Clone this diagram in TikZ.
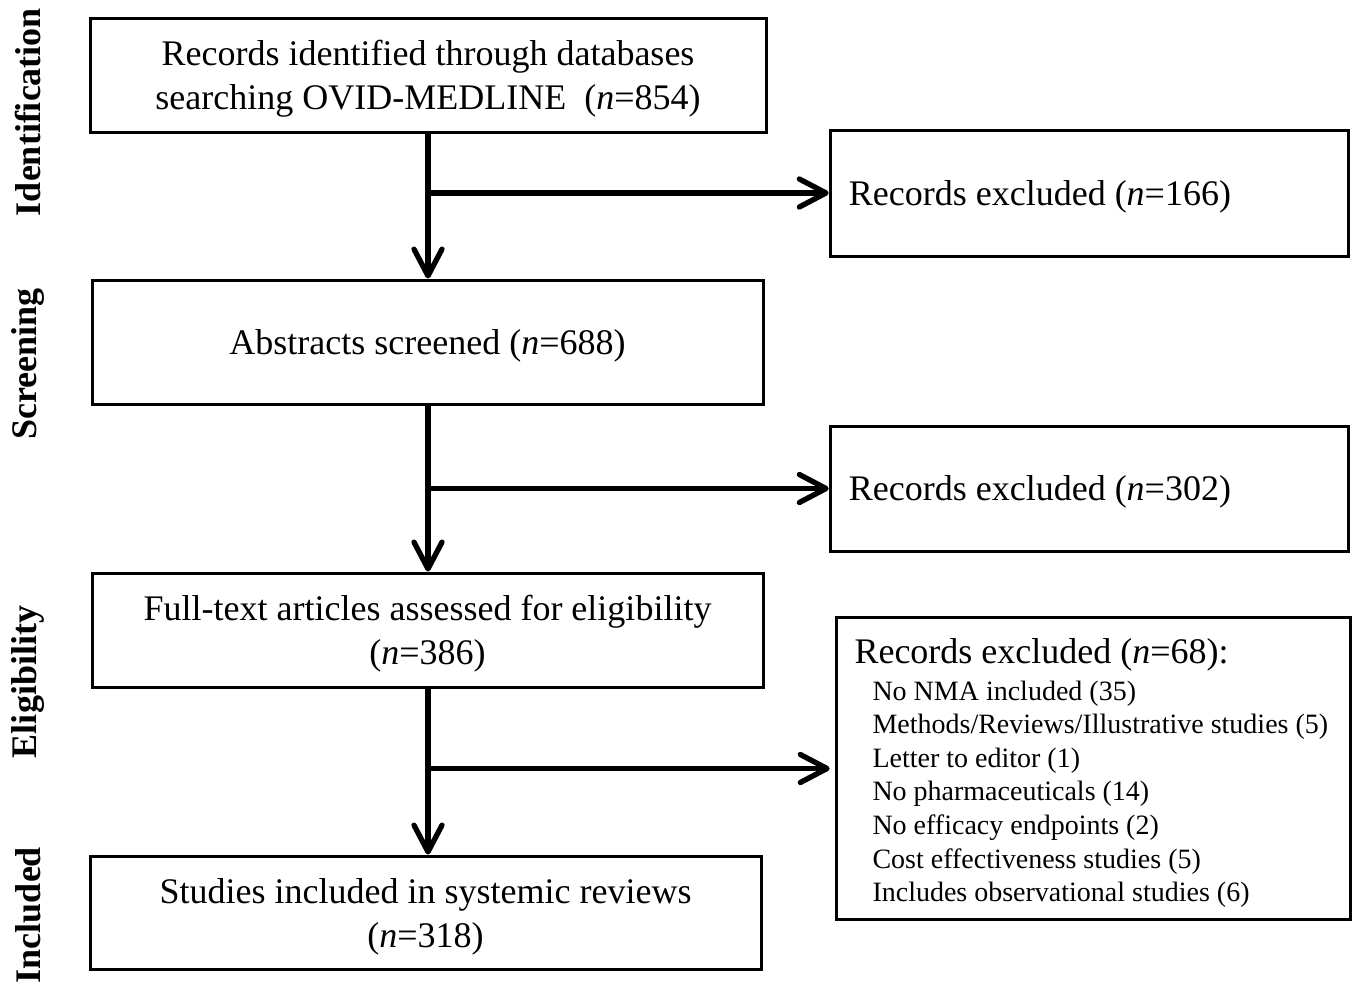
\documentclass[tikz,border=0pt]{standalone}
\usepackage{fontspec}
\setmainfont{Liberation Serif}
\usetikzlibrary{arrows.meta}

\begin{document}
\begin{tikzpicture}[
  x=0.75pt, y=-0.75pt,
  font=\fontsize{27}{33}\selectfont,
  frame/.style={draw, line width=2.25pt, inner sep=0pt},
  box/.style={frame, align=center, text depth=0pt},
  side/.style={frame, align=flush left, inner xsep=12pt},
  arr/.style={-{Straight Barb[length=20pt,width=21pt,round]}, line width=4pt},
  stage/.style={rotate=90, inner sep=0pt, font=\fontsize{27}{33}\selectfont\bfseries}
]
\useasboundingbox (0,0) rectangle (1352,985);

% ---- stage labels ----
\node[stage] (lid) at (28,112) {Identification};
\node[stage] (lscr) at (28,364) {Screening};
\node[stage] (lelig) at (28,682) {Eligibility};
\node[stage] (lincl) at (28,915) {Included};

% ---- main column ----
\node[box, minimum width=507pt, minimum height=85.5pt] (ident) at (428,75)
  {Records identified through databases\\searching OVID-MEDLINE \ (\textit{n}=854)};
\node[box, minimum width=503.25pt, minimum height=93pt] (abstr) at (427.5,342)
  {Abstracts screened (\textit{n}=688)};
\node[box, minimum width=503.25pt, minimum height=85.5pt] (full) at (427.5,630)
  {Full-text articles assessed for eligibility\\(\textit{n}=386)};
\node[box, minimum width=503.25pt, minimum height=84.75pt] (incl) at (425.5,912.5)
  {Studies included in systemic reviews\\(\textit{n}=318)};

% ---- exclusions ----
\node[side, inner xsep=14pt, text width=361pt, minimum height=94.5pt, text depth=0pt] (excA) at (1089.5,193)
  {Records excluded (\textit{n}=166)};
\node[side, inner xsep=14pt, text width=361pt, minimum height=93.75pt, text depth=0pt] (excB) at (1089.5,488.5)
  {Records excluded (\textit{n}=302)};
\node[side, text width=361.5pt, minimum height=226.5pt, anchor=north west] (excC) at (835,616)
  {\rule{0pt}{26pt}\hspace*{1.5pt}Records excluded (\textit{n}=68):\\[2pt]
   \fontsize{21}{25.2}\selectfont
   \hspace*{15pt}No NMA included (35)\\
   \hspace*{15pt}Methods/Reviews/Illustrative studies (5)\\
   \hspace*{15pt}Letter to editor (1)\\
   \hspace*{15pt}No pharmaceuticals (14)\\
   \hspace*{15pt}No efficacy endpoints (2)\\
   \hspace*{15pt}Cost effectiveness studies (5)\\
   \hspace*{15pt}Includes observational studies (6)\par};

% ---- arrows ----
\draw[arr] (ident.south) -- (ident.south |- abstr.north);
\draw[arr] (ident.south |- excA.west) -- (excA.west);
\draw[arr] (ident.south |- abstr.south) -- (ident.south |- full.north);
\draw[arr] (ident.south |- excB.west) -- (excB.west);
\draw[arr] (ident.south |- full.south) -- (ident.south |- incl.north);
\draw[arr, shorten >=4pt] (ident.south |- excC.west) -- (excC.west);
\end{tikzpicture}
\end{document}
